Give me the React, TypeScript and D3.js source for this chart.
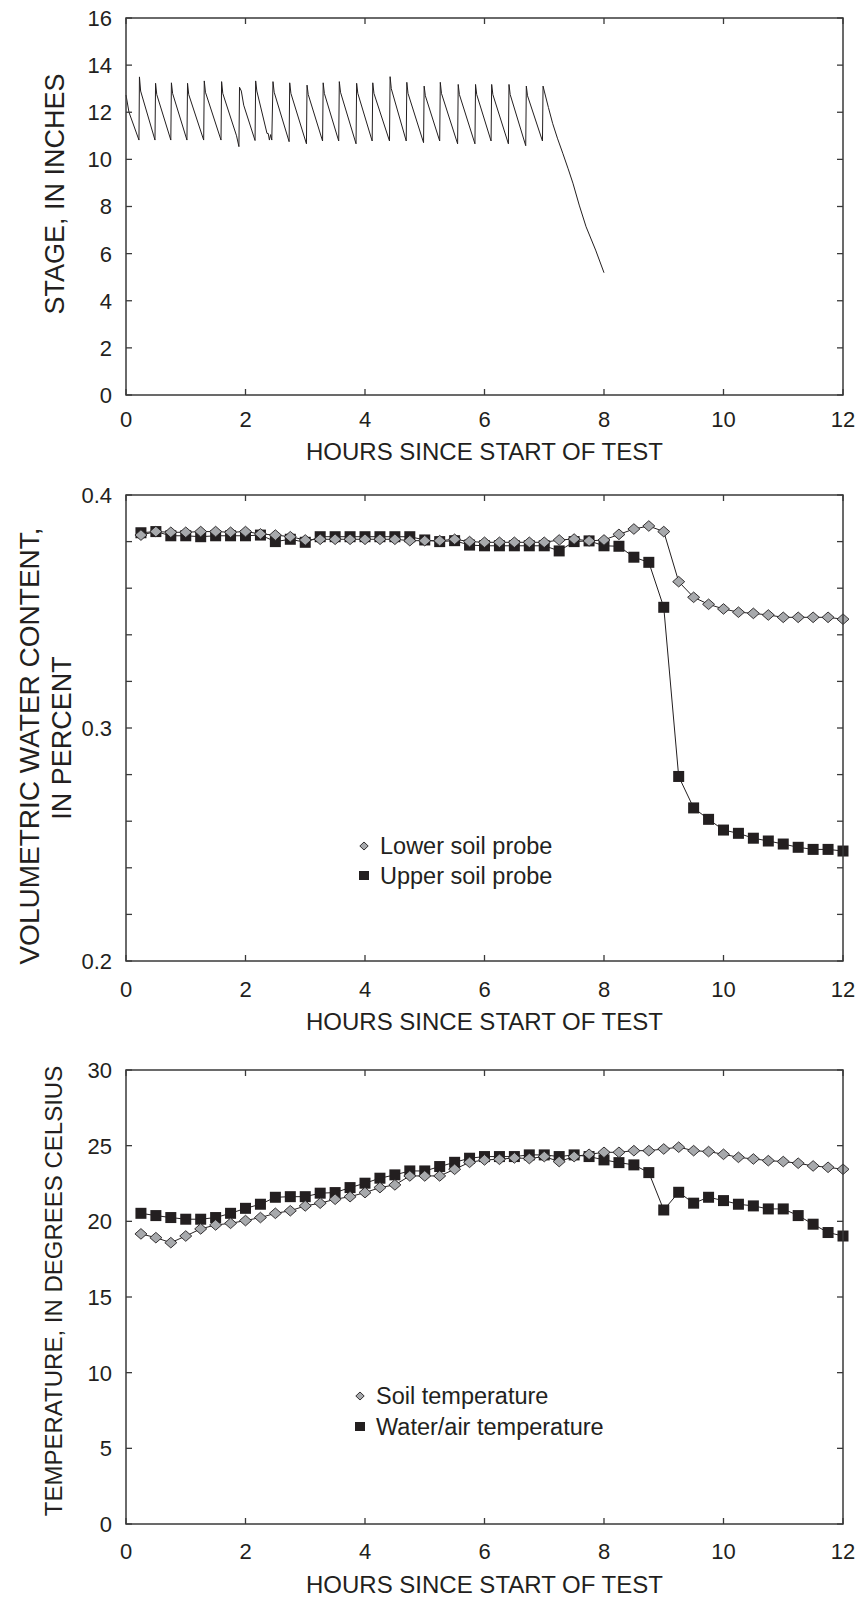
import React from 'react';
import * as d3 from 'd3';

const W = 859;
const H = 1598;
const LEFT = 126;
const RIGHT = 843;
const INK = '#231f20';
const FRAME = '#3a3a3a';
const FONT = '"Liberation Sans", Arial, Helvetica, sans-serif';

// ---------- data ----------
const hourTicks = [0, 2, 4, 6, 8, 10, 12];
const stageTicks = [0, 2, 4, 6, 8, 10, 12, 14, 16];
const vwcTicks = [0.2, 0.22, 0.24, 0.26, 0.28, 0.3, 0.32, 0.34, 0.36, 0.38, 0.4];
const vwcLabels = [0.2, 0.3, 0.4];
const tempTicks = [0, 5, 10, 15, 20, 25, 30];

// stage record: [hours, stage in inches]
const stageSeries: [number, number][] = [
  [0.0, 12.73], [0.05, 12.0], [0.217, 10.82],
  [0.225, 13.5], [0.245, 12.9], [0.485, 10.82],
  [0.495, 13.23], [0.515, 12.75], [0.75, 10.82],
  [0.76, 13.25], [0.78, 12.8], [1.02, 10.82],
  [1.03, 13.23], [1.05, 12.75], [1.3, 10.82],
  [1.31, 13.33], [1.33, 12.85], [1.59, 10.82],
  [1.6, 13.3], [1.62, 12.8], [1.85, 11.0], [1.89, 10.54],
  [1.9, 13.06], [1.93, 12.9], [1.97, 12.3], [2.16, 10.8],
  [2.17, 13.33], [2.19, 12.9], [2.36, 11.1], [2.38, 11.1], [2.4, 10.82], [2.42, 11.05], [2.44, 10.82],
  [2.46, 13.3], [2.48, 12.85], [2.73, 10.75],
  [2.74, 13.25], [2.76, 12.8], [3.02, 10.66],
  [3.03, 13.15], [3.05, 12.75], [3.29, 10.78],
  [3.3, 13.25], [3.32, 12.8], [3.56, 10.78],
  [3.57, 13.3], [3.59, 12.85], [3.85, 10.66],
  [3.86, 13.23], [3.88, 12.8], [4.12, 10.78],
  [4.13, 13.25], [4.15, 12.8], [4.41, 10.78],
  [4.42, 13.51], [4.44, 13.0], [4.69, 10.78],
  [4.7, 13.27], [4.72, 12.8], [4.98, 10.71],
  [4.99, 13.11], [5.01, 12.7], [5.25, 10.78],
  [5.26, 13.27], [5.28, 12.8], [5.55, 10.66],
  [5.56, 13.18], [5.58, 12.75], [5.84, 10.66],
  [5.85, 13.18], [5.87, 12.75], [6.11, 10.78],
  [6.12, 13.18], [6.14, 12.75], [6.4, 10.66],
  [6.41, 13.18], [6.43, 12.75], [6.69, 10.58],
  [6.7, 13.11], [6.72, 12.7], [6.97, 10.78],
  [6.98, 13.11], [7.0, 12.9], [7.07, 12.2], [7.14, 11.53], [7.22, 10.9], [7.31, 10.26],
  [7.4, 9.6], [7.48, 8.99], [7.585, 8.06], [7.7, 7.14], [7.86, 6.15], [8.0, 5.19],
];

const probeHours = [
  0.25, 0.5, 0.75, 1.0, 1.25, 1.5, 1.75, 2.0, 2.25, 2.5, 2.75, 3.0,
  3.25, 3.5, 3.75, 4.0, 4.25, 4.5, 4.75, 5.0, 5.25, 5.5, 5.75, 6.0,
  6.25, 6.5, 6.75, 7.0, 7.25, 7.5, 7.75, 8.0, 8.25, 8.5, 8.75, 9.0,
  9.25, 9.5, 9.75, 10.0, 10.25, 10.5, 10.75, 11.0, 11.25, 11.5, 11.75, 12.0,
];

const lowerProbe = [
  0.3828, 0.3843, 0.384, 0.384, 0.3843, 0.3843, 0.384, 0.3843, 0.3833, 0.3828, 0.3821, 0.3807,
  0.381, 0.381, 0.381, 0.381, 0.381, 0.381, 0.3804, 0.3804, 0.3804, 0.381, 0.38, 0.3797,
  0.3797, 0.3797, 0.3797, 0.3797, 0.3807, 0.3811, 0.3803, 0.3807, 0.3831, 0.3854, 0.3867, 0.3843,
  0.3628, 0.3561, 0.3531, 0.3511, 0.3497, 0.3492, 0.3485, 0.3475, 0.3475, 0.3475, 0.3475, 0.3467,
];

const upperProbe = [
  0.3838, 0.3843, 0.3825, 0.3825, 0.3821, 0.3825, 0.3825, 0.3825, 0.3828, 0.38, 0.381, 0.3797,
  0.3821, 0.3821, 0.3821, 0.3821, 0.3821, 0.3821, 0.3821, 0.3807, 0.38, 0.3804, 0.3785, 0.3782,
  0.3782, 0.3782, 0.3782, 0.3782, 0.376, 0.38, 0.3803, 0.3782, 0.378, 0.3733, 0.3711, 0.3518,
  0.2792, 0.2657, 0.2608, 0.2562, 0.2548, 0.2527, 0.2515, 0.2502, 0.2488, 0.2479, 0.2479, 0.2472,
];

const soilTemp = [
  19.17, 18.92, 18.59, 19.03, 19.5, 19.76, 19.87, 20.05, 20.25, 20.53, 20.7, 21.02,
  21.2, 21.46, 21.63, 21.9, 22.23, 22.41, 23.0, 23.0, 23.0, 23.44, 23.9, 24.06,
  24.1, 24.19, 24.15, 24.28, 23.95, 24.28, 24.43, 24.56, 24.56, 24.67, 24.67, 24.78,
  24.9, 24.67, 24.61, 24.43, 24.23, 24.12, 24.01, 23.95, 23.84, 23.66, 23.57, 23.44,
];

const waterAirTemp = [
  20.53, 20.38, 20.25, 20.14, 20.14, 20.25, 20.53, 20.86, 21.13, 21.59, 21.63, 21.63,
  21.86, 21.9, 22.23, 22.52, 22.85, 23.07, 23.33, 23.33, 23.62, 23.9, 24.17, 24.28,
  24.28, 24.28, 24.39, 24.39, 24.28, 24.39, 24.28, 24.06, 23.88, 23.73, 23.22, 20.75,
  21.92, 21.2, 21.59, 21.37, 21.13, 21.02, 20.82, 20.82, 20.38, 19.81, 19.26, 19.03,
];

const xTitle = 'HOURS SINCE START OF TEST';

// ---------- helpers ----------
const xScale = d3.scaleLinear().domain([0, 12]).range([LEFT, RIGHT]);

type YTitle = { text: string; x: number; y: number; size: number };

type FrameProps = {
  top: number;
  bottom: number;
  y: d3.ScaleLinear<number, number>;
  yTicks: number[];
  yLabels: number[];
  fmt: (v: number) => string;
  tickLabelDy: number;
  titleDy: number;
  yTitles: YTitle[];
};

function Frame({ top, bottom, y, yTicks, yLabels, fmt, tickLabelDy, titleDy, yTitles }: FrameProps) {
  const T = 6;
  return (
    <g>
      <rect x={LEFT} y={top} width={RIGHT - LEFT} height={bottom - top} fill="none" stroke={FRAME} strokeWidth={1.5} />
      {hourTicks.map((h) => (
        <g key={'xt' + h}>
          <line x1={xScale(h)} x2={xScale(h)} y1={bottom} y2={bottom - T} stroke={FRAME} strokeWidth={1.3} />
          <line x1={xScale(h)} x2={xScale(h)} y1={top} y2={top + T} stroke={FRAME} strokeWidth={1.3} />
          <text x={xScale(h)} y={bottom + tickLabelDy} textAnchor="middle" fontSize={22} fill={INK} fontFamily={FONT}>
            {String(h)}
          </text>
        </g>
      ))}
      {yTicks.map((v) => (
        <g key={'yt' + v}>
          <line x1={LEFT} x2={LEFT + T} y1={y(v)} y2={y(v)} stroke={FRAME} strokeWidth={1.3} />
          <line x1={RIGHT} x2={RIGHT - T} y1={y(v)} y2={y(v)} stroke={FRAME} strokeWidth={1.3} />
        </g>
      ))}
      {yLabels.map((v) => (
        <text key={'yl' + v} x={112} y={y(v)} dy="0.36em" textAnchor="end" fontSize={22} fill={INK} fontFamily={FONT}>
          {fmt(v)}
        </text>
      ))}
      <text x={(LEFT + RIGHT) / 2} y={bottom + titleDy} textAnchor="middle" fontSize={24} fill={INK} fontFamily={FONT}>
        {xTitle}
      </text>
      {yTitles.map((t) => (
        <text key={t.text} transform={`translate(${t.x},${t.y}) rotate(-90)`} textAnchor="middle" fontSize={t.size} fill={INK} fontFamily={FONT}>
          {t.text}
        </text>
      ))}
    </g>
  );
}

const diamondPath = (cx: number, cy: number, rx: number, ry: number) =>
  `M${cx},${cy - ry}L${cx + rx},${cy}L${cx},${cy + ry}L${cx - rx},${cy}Z`;

type SeriesProps = { y: d3.ScaleLinear<number, number>; lower: number[]; upper: number[] };

function MarkerSeries({ y, lower, upper }: SeriesProps) {
  const line = d3
    .line<number>()
    .x((_, i) => xScale(probeHours[i]))
    .y((d) => y(d));
  return (
    <g>
      <path d={line(upper) || ''} fill="none" stroke={INK} strokeWidth={1} />
      <path d={line(lower) || ''} fill="none" stroke={INK} strokeWidth={1} />
      {upper.map((v, i) => (
        <rect key={'u' + i} x={xScale(probeHours[i]) - 5.5} y={y(v) - 5.5} width={11} height={11} fill={INK} />
      ))}
      {lower.map((v, i) => (
        <path key={'l' + i} d={diamondPath(xScale(probeHours[i]), y(v), 6, 5.3)} fill="#a7a9ac" stroke={INK} strokeWidth={0.9} />
      ))}
    </g>
  );
}

function Legend({ x, y1, y2, label1, label2 }: { x: number; y1: number; y2: number; label1: string; label2: string }) {
  return (
    <g fontFamily={FONT} fontSize={23.5} fill={INK}>
      <path d={diamondPath(x, y1 - 8, 4.2, 4)} fill="#a7a9ac" stroke={INK} strokeWidth={0.9} />
      <text x={x + 16} y={y1}>{label1}</text>
      <rect x={x - 5} y={y2 - 13} width={10} height={9} fill={INK} />
      <text x={x + 16} y={y2}>{label2}</text>
    </g>
  );
}

export default function App() {
  // panel 1
  const top1 = 18, bot1 = 395;
  const y1 = d3.scaleLinear().domain([0, 16]).range([bot1, top1]);
  const stageLine = d3
    .line<[number, number]>()
    .x((d) => xScale(d[0]))
    .y((d) => y1(d[1]));

  // panel 2
  const top2 = 495, bot2 = 961;
  const y2 = d3.scaleLinear().domain([0.2, 0.4]).range([bot2, top2]);

  // panel 3
  const top3 = 1070, bot3 = 1524;
  const y3 = d3.scaleLinear().domain([0, 30]).range([bot3, top3]);

  return (
    <svg
      width={W}
      height={H}
      viewBox={`0 0 ${W} ${H}`}
      style={{ position: 'absolute', left: 0, top: 0, background: '#fff', display: 'block' }}
    >
      <rect x={0} y={0} width={W} height={H} fill="#fff" />

      {/* Panel 1 */}
      <path d={stageLine(stageSeries) || ''} fill="none" stroke={INK} strokeWidth={1} />
      <Frame
        top={top1}
        bottom={bot1}
        y={y1}
        yTicks={stageTicks}
        yLabels={stageTicks}
        fmt={(v) => String(v)}
        tickLabelDy={32}
        titleDy={65}
        yTitles={[{ text: 'STAGE, IN INCHES', x: 63.5, y: 194, size: 27 }]}
      />

      {/* Panel 2 */}
      <MarkerSeries y={y2} lower={lowerProbe} upper={upperProbe} />
      <Frame
        top={top2}
        bottom={bot2}
        y={y2}
        yTicks={vwcTicks}
        yLabels={vwcLabels}
        fmt={(v) => v.toFixed(1)}
        tickLabelDy={36}
        titleDy={69}
        yTitles={[
          { text: 'VOLUMETRIC WATER CONTENT,', x: 38.5, y: 746, size: 28 },
          { text: 'IN PERCENT', x: 70.5, y: 738, size: 27 },
        ]}
      />
      <Legend x={364} y1={854} y2={884} label1="Lower soil probe" label2="Upper soil probe" />

      {/* Panel 3 */}
      <MarkerSeries y={y3} lower={soilTemp} upper={waterAirTemp} />
      <Frame
        top={top3}
        bottom={bot3}
        y={y3}
        yTicks={tempTicks}
        yLabels={tempTicks}
        fmt={(v) => String(v)}
        tickLabelDy={35}
        titleDy={69}
        yTitles={[{ text: 'TEMPERATURE, IN DEGREES CELSIUS', x: 62, y: 1291, size: 24 }]}
      />
      <Legend x={360} y1={1404} y2={1435} label1="Soil temperature" label2="Water/air temperature" />
    </svg>
  );
}
